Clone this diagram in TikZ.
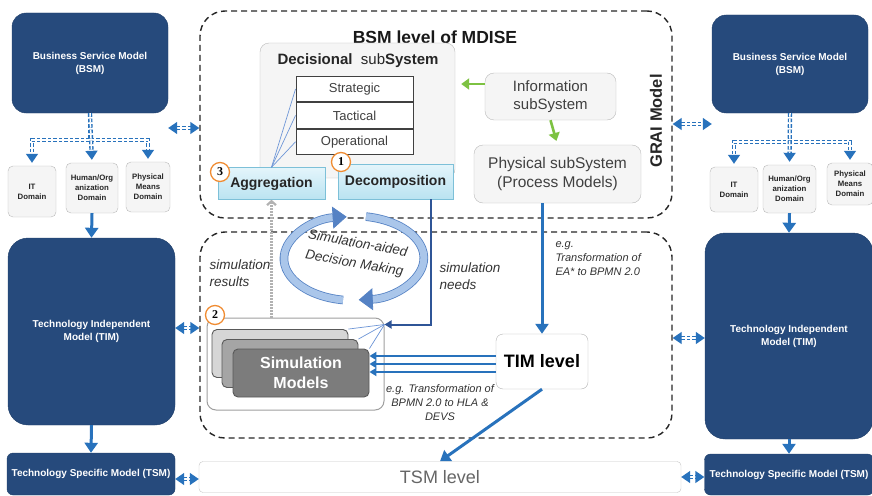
\documentclass[tikz,border=0pt]{standalone}
\usepackage{fontspec}
\setmainfont{Liberation Sans}
\newfontfamily\numfont{Liberation Serif}
\usepackage{tikz}
\usetikzlibrary{arrows.meta, positioning, calc}

\definecolor{navy}{RGB}{38,74,124}
\definecolor{arrblue}{RGB}{40,114,188}
\definecolor{needblue}{RGB}{47,85,151}
\definecolor{lineblue}{RGB}{110,150,215}
\definecolor{grn}{RGB}{125,194,66}
\definecolor{orng}{RGB}{240,140,50}
\definecolor{cyantop}{RGB}{228,245,251}
\definecolor{cyanbot}{RGB}{186,227,241}
\definecolor{cyanedge}{RGB}{125,192,216}
\definecolor{cycfill}{RGB}{170,198,234}
\definecolor{cycedge}{RGB}{85,130,196}
\definecolor{cardback}{RGB}{214,214,214}
\definecolor{cardmid}{RGB}{165,165,165}
\definecolor{cardfront}{RGB}{124,124,124}

\begin{document}
\begin{tikzpicture}[x=1pt, y=-1pt,
            model/.style={rectangle, rounded corners=14pt, fill=navy, draw=navy!85!black,
                    text=white, font=\fontsize{10}{13}\selectfont\bfseries,
                    align=center, inner sep=1pt},
            dom/.style={rectangle, rounded corners=5pt, draw=gray!55, fill=gray!8,
                    font=\fontsize{7.8}{10}\selectfont\bfseries, text=black!85,
                    align=center, inner sep=0pt},
            zone/.style={rectangle, draw=black!85, line width=1.4pt,
                    dash pattern=on 6pt off 4pt, rounded corners=25pt},
            sub/.style={rectangle, rounded corners=9pt, draw=gray!55, fill=gray!8,
                    text=black!75, align=center},
            row/.style={rectangle, draw=black!75, line width=0.9pt, fill=white,
                    minimum width=117, minimum height=25.5,
                    font=\fontsize{13}{15}\selectfont, text=black!75},
            phase/.style={rectangle, draw=cyanedge, top color=cyantop, bottom color=cyanbot,
                    font=\fontsize{14}{16}\selectfont\bfseries, text=black!85},
            num/.style={circle, draw=orng, line width=1.3pt, fill=white, inner sep=0pt,
                    minimum size=19, font=\numfont\bfseries\fontsize{12}{12}\selectfont},
            card/.style={rectangle, rounded corners=5pt, draw=black!65, line width=0.9pt,
                    minimum width=136, minimum height=48},
            lvl/.style={rectangle, rounded corners=7pt, draw=gray!60, fill=white},
            note/.style={font=\fontsize{11}{14}\selectfont\itshape, text=black!80},
            link/.style={draw=arrblue, line width=3pt, -{Triangle[length=10pt,width=13pt]}},
            thinlink/.style={draw=arrblue, line width=2pt, -{Triangle[length=7pt,width=8pt]}},
            dbl/.style={draw=arrblue, line width=1.4pt, double=white, double distance=1.5pt,
                    dash pattern=on 3.5pt off 2pt},
            dbltip/.style={dbl, -{Triangle[length=9pt,width=12pt]}},
            dblarr/.style={dbl, {Triangle[length=9pt,width=12pt]}-{Triangle[length=9pt,width=12pt]}},
            grnarr/.style={draw=grn, line width=2.6pt, -{Triangle[length=8pt,width=11pt]}},
            fan/.style={draw=lineblue, line width=0.7pt},
            cyc/.style={draw=cycedge, line width=0.8pt, double=cycfill, double distance=7pt,
                    -{Triangle[length=14pt,width=22pt]}}
            ]
            \useasboundingbox (0,0) rectangle (872,495);

            %% ---- Left column ----
            %% BSM (90,63)
            \node[model, minimum width=156, minimum height=100] (lbsm) at (90,63)
                {Business Service Model\\(BSM)};
            \node[dom, minimum width=48, minimum height=51] (lit) at (32,191.5) {IT\\Domain};
            \node[dom, minimum width=52, minimum height=50] (lhum) at (92,188) {Human/Org\\anization\\Domain};
            \node[dom, minimum width=44, minimum height=50] (lphy) at (148,187) {Physical\\Means\\Domain};
            %% TIM (91.5,331.5)
            \node[model, minimum width=167, minimum height=187, rounded corners=20pt] (ltim) at (91.5,331.5)
                {Technology Independent\\Model (TIM)};
            %% TSM (91,474)
            \node[model, minimum width=168, minimum height=42, rounded corners=6pt] (ltsm) at (91,474)
                {Technology Specific Model (TSM)};

            %% ---- Right column ----
            \node[model, minimum width=156, minimum height=98] (rbsm) at (790,64)
                {Business Service Model\\(BSM)};
            \node[dom, minimum width=48, minimum height=45] (rit) at (734,189.5) {IT\\Domain};
            \node[dom, minimum width=53, minimum height=48] (rhum) at (789.5,189) {Human/Org\\anization\\Domain};
            \node[dom, minimum width=46, minimum height=42] (rphy) at (850,184) {Physical\\Means\\Domain};
            \node[model, minimum width=168, minimum height=206, rounded corners=20pt] (rtim) at (789,336)
                {Technology Independent\\Model (TIM)};
            \node[model, minimum width=169, minimum height=41, rounded corners=6pt] (rtsm) at (789,474.5)
                {Technology Specific Model (TSM)};

            %% ---- BSM level of MDISE ----
            \node[zone, minimum width=472, minimum height=207] (bsmzone) at (436,114.5) {};
            \node[font=\fontsize{17.5}{20}\selectfont\bfseries, text=black!90] (bsmtitle) at (435,37)
                {BSM level of MDISE};
            \node[font=\fontsize{16.5}{18}\selectfont\bfseries, text=black!85, rotate=90] (grai) at (656,121)
                {GRAI Model};

            %% Decisional subSystem (357.5,110.5)
            \node[sub, minimum width=195, minimum height=135] (dec) at (357.5,110.5) {};
            \node[font=\fontsize{15}{17}\selectfont, text=black!85] (dectitle) at (358,61)
                {\textbf{Decisional}\ \ sub\textbf{System}};
            \node[row] (strat) at (354.5,89) {Strategic};
            \node[row, below=0pt of strat] (tact) {Tactical};
            \node[row, below=0pt of tact] (oper) {Operational};
            \node[phase, minimum width=107, minimum height=32] (aggr) at (271.5,183.5) {Aggregation};
            \node[phase, minimum width=115, minimum height=35] (decomp) at (395.5,181.5) {Decomposition};
            \node[num] (n3) at (220,172) {3};
            \node[num] (n1) at (341,162) {1};

            %% Information / Physical subSystem
            \node[sub, minimum width=131, minimum height=47, font=\fontsize{15}{18}\selectfont] (info) at (550.5,96.5)
                {Information\\subSystem};
            \node[sub, minimum width=167, minimum height=58, font=\fontsize{15.5}{19}\selectfont] (phys) at (557.5,174)
                {Physical subSystem\\(Process Models)};

            %% ---- TIM level ----
            \node[zone, minimum width=472, minimum height=206] (timzone) at (436,335) {};
            \node[note, font=\fontsize{13.5}{17}\selectfont\itshape, align=left, anchor=west] (simres) at (206,273)
                {simulation\\results};
            \node[note, font=\fontsize{13.5}{17}\selectfont\itshape, align=left, anchor=west] (simneed) at (436,276)
                {simulation\\needs};
            \node[note, align=left, anchor=west] (eanote) at (552,259)
                {e.g.\\Transformation of\\EA* to BPMN 2.0};

            %% Simulation Models (295.5,364)
            \node[rectangle, rounded corners=9pt, draw=gray!75, line width=1pt, fill=white,
                  minimum width=177, minimum height=92] (simgrp) at (295.5,364) {};
            \node[card, fill=cardback] (simback) at (280,353.5) {};
            \node[card, fill=cardmid] (simmid) at (290,363.5) {};
            \node[card, fill=cardfront, text=white, align=center,
                  font=\fontsize{16}{20}\selectfont\bfseries] (simfront) at (301,373)
                {Simulation\\Models};
            \node[num] (n2) at (215,315) {2};
            \node[note, align=center] (hlanote) at (440,403)
                {e.g. Transformation of\\BPMN 2.0 to HLA \&\\DEVS};

            %% TIM level (542,361.5)
            \node[lvl, minimum width=92, minimum height=55, font=\fontsize{18}{20}\selectfont\bfseries] (tim) at (542,361.5)
                {TIM level};

            %% TSM level (440,477)
            \node[lvl, rounded corners=4pt, draw=gray!45, minimum width=482, minimum height=31,
                  text=gray!80!black, font=\fontsize{18}{20}\selectfont] (tsmlvl) at (440,477) {TSM level};

            %% ---- Relationships ----
            % BSM splits into domains (left)
            \draw[dbltip, shorten >=3pt] (lbsm.south) -- ++(0,27) -| (lit.north);
            \draw[dbltip, shorten >=3pt] (lbsm.south) -- ++(0,27) -| (lphy.north);
            \draw[dbltip, shorten >=3pt] (lbsm.south) -- (lhum.north);
            % BSM splits into domains (right)
            \draw[dbltip, shorten >=3pt] (rbsm.south) -- ++(0,29) -| (rit.north);
            \draw[dbltip, shorten >=3pt] (rbsm.south) -- ++(0,29) -| (rphy.north);
            \draw[dbltip, shorten >=3pt] (rbsm.south) -- (rhum.north);
            % columns go down
            \draw[link] (lhum.south) -- (ltim.north);
            \draw[link] (ltim.south) -- (ltsm.north);
            \draw[link] (rhum.south) -- (rtim.north);
            \draw[link] (rtim.south) -- (rtsm.north);
            % columns meet the levels
            \draw[dblarr] (lbsm.east |- 0,128) -- (bsmzone.west |- 0,128);
            \draw[dblarr] (bsmzone.east |- 0,124) -- (rbsm.west |- 0,124);
            \draw[dblarr] (ltim.east |- 0,328) -- (timzone.west |- 0,328);
            \draw[dblarr] (timzone.east |- 0,338) -- (rtim.west |- 0,338);
            \draw[dblarr] (ltsm.east |- 0,479) -- (tsmlvl.west |- 0,479);
            \draw[dblarr] (tsmlvl.east |- 0,477) -- (rtsm.west |- 0,477);

            % subsystems
            \draw[grnarr, shorten >=6pt] (info.west |- 0,84) -- (dec.east |- 0,84);
            \draw[grnarr, shorten >=4pt] (info.south) -- (phys.north);
            % aggregation looks at the three levels
            \draw[fan] (aggr.north) -- (strat.west);
            \draw[fan] (aggr.north) -- (tact.west);
            \draw[fan] (aggr.north) -- (oper.west);

            % simulation results
            \draw[draw=gray!60, line width=2.2pt, dash pattern=on 1.5pt off 1.5pt,
                  -{Straight Barb[length=4pt,width=9pt]}] (simgrp.north -| aggr.south) -- (aggr.south);
            % simulation needs
            \coordinate (needend) at ([yshift=-7pt]simgrp.north east);
            \draw[draw=needblue, line width=2pt, -{Triangle[length=7pt,width=8pt]}]
                ([xshift=35pt]decomp.south) |- (needend);
            \draw[fan] (needend) -- (simback.north east);
            \draw[fan] (needend) -- (simmid.north east);
            \draw[fan] (needend) -- (simfront.north east);

            % decision making cycle
            \coordinate (cycl) at (343,300);
            \coordinate (cycr) at (366,216.6);
            \draw[cyc] (cycl) arc[start angle=99, end angle=264, x radius=70, y radius=42];
            \draw[cyc] (cycr) arc[start angle=-80, end angle=86, x radius=70, y radius=42];
            \node[font=\fontsize{13.5}{20}\selectfont\itshape, text=black!80, rotate=-10, align=center] (cyctext) at (356,254)
                {Simulation-aided\\Decision Making};

            % model transformations
            \draw[link] (tim.north |- phys.south) -- (tim.north);
            \draw[thinlink] (tim.west |- 0,356) -- (simfront.east |- 0,356);
            \draw[thinlink] (tim.west |- 0,364) -- (simfront.east |- 0,364);
            \draw[thinlink] (tim.west |- 0,372) -- (simfront.east |- 0,372);
            \draw[link] (tim.south) -- (tsmlvl.north);
        \end{tikzpicture}
\end{document}
